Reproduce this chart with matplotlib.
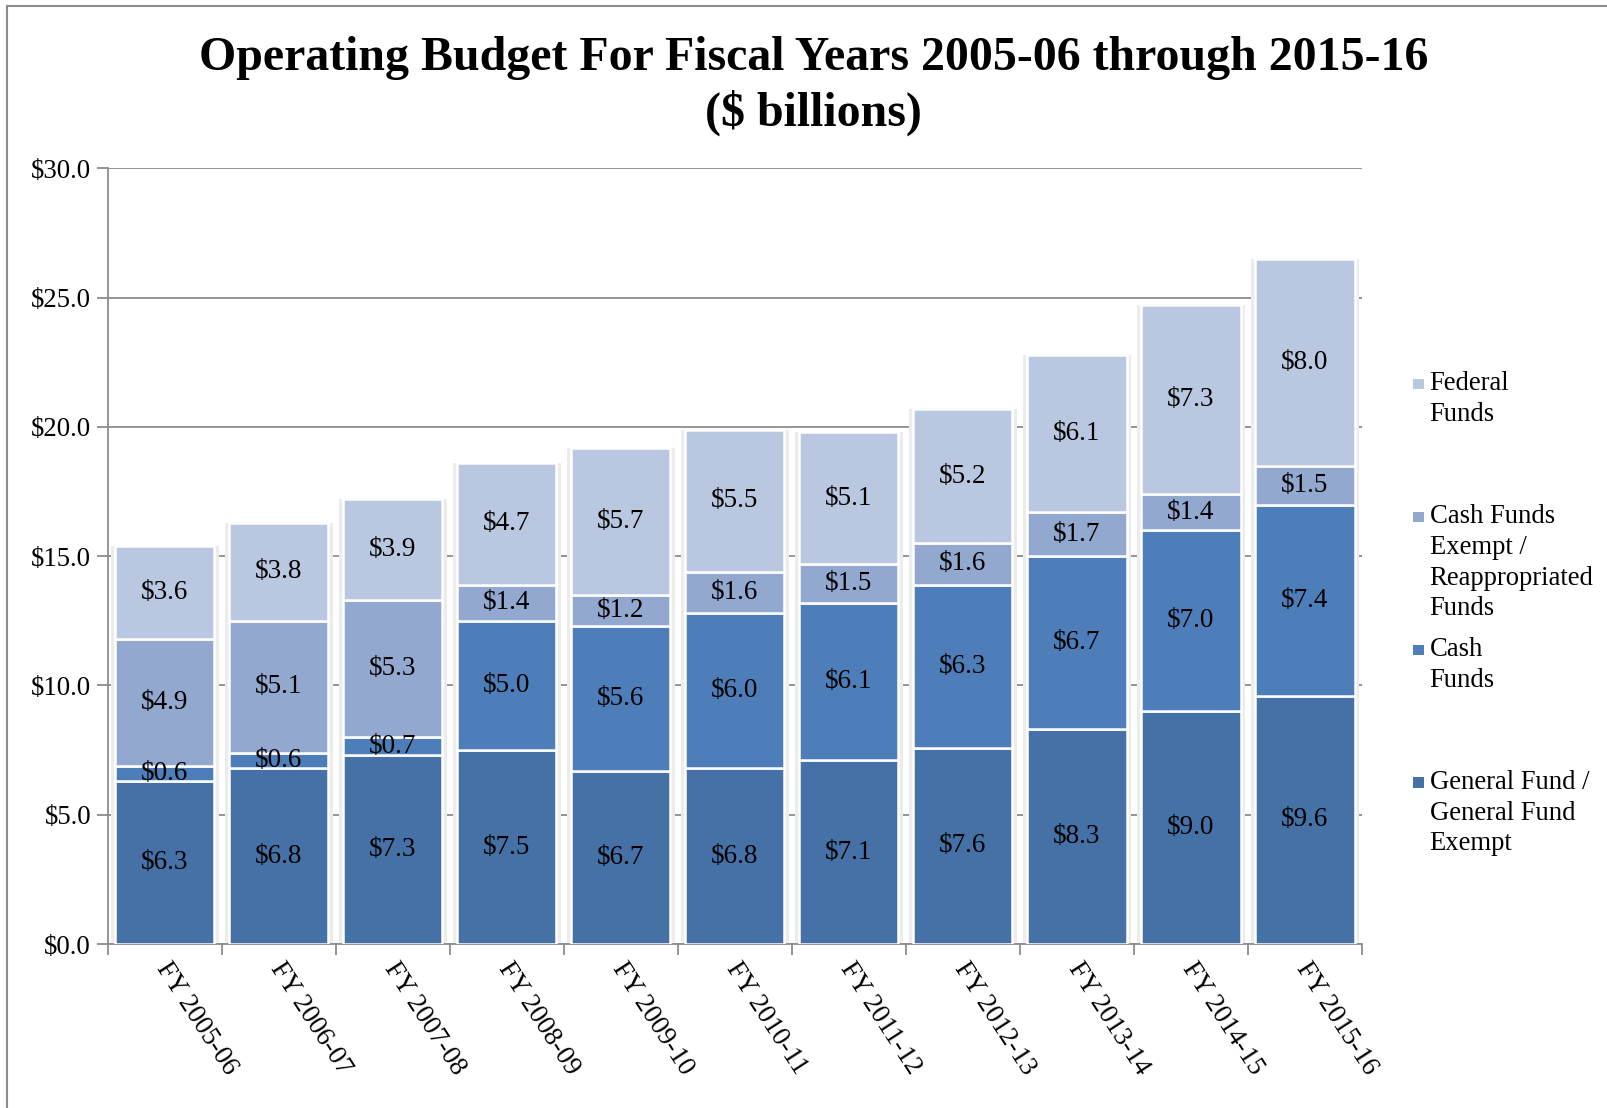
"""
Stacked operating budget chart, fiscal years 2005-06 through 2015-16.
"""

import matplotlib
matplotlib.use("Agg")
import matplotlib.pyplot as plt
import matplotlib.transforms as mtransforms
import numpy as np
from matplotlib.lines import Line2D
from matplotlib.patches import Rectangle

plt.rcParams["font.family"] = ["Liberation Serif", "DejaVu Serif"]

years = ["FY 2005-06", "FY 2006-07", "FY 2007-08", "FY 2008-09", "FY 2009-10",
         "FY 2010-11", "FY 2011-12", "FY 2012-13", "FY 2013-14", "FY 2014-15",
         "FY 2015-16"]

general_fund = [6.3, 6.8, 7.3, 7.5, 6.7, 6.8, 7.1, 7.6, 8.3, 9.0, 9.6]
cash_funds = [0.6, 0.6, 0.7, 5.0, 5.6, 6.0, 6.1, 6.3, 6.7, 7.0, 7.4]
cash_exempt = [4.9, 5.1, 5.3, 1.4, 1.2, 1.6, 1.5, 1.6, 1.7, 1.4, 1.5]
federal_funds = [3.6, 3.8, 3.9, 4.7, 5.7, 5.5, 5.1, 5.2, 6.1, 7.3, 8.0]

series = [
    ("General Fund /\nGeneral Fund\nExempt", general_fund, "#4571A7"),
    ("Cash\nFunds", cash_funds, "#4D7EBA"),
    ("Cash Funds\nExempt /\nReappropriated\nFunds", cash_exempt, "#93A8CF"),
    ("Federal\nFunds", federal_funds, "#BAC7E0"),
]

y_ticks = [0, 5, 10, 15, 20, 25, 30]

fig = plt.figure(figsize=(16.08, 11.08), dpi=100)
ax = fig.add_axes([0.067, 0.148, 0.78, 0.70])

x = np.arange(len(years))
bottom = np.zeros(len(years))
for name, vals, color in series:
    vals = np.array(vals)
    ax.bar(x, vals, 0.87, bottom=bottom, color=color, edgecolor="white",
           linewidth=1.8, zorder=3)
    for xi, b, v in zip(x, bottom, vals):
        ax.text(xi, b + v / 2, f"${v:.1f}", ha="center", va="center",
                fontsize=19.5, color="black", zorder=4)
    bottom += vals

# soft shadow strips either side of each column
for xi, total in zip(x, bottom):
    for dx in (-0.475, 0.435):
        ax.add_patch(Rectangle((xi + dx, 0), 0.04, total, facecolor="#ececec",
                               edgecolor="none", zorder=2))

ax.set_xlim(-0.5, len(years) - 0.5)
ax.set_ylim(0, 30)
ax.set_yticks(y_ticks)
ax.set_yticklabels([f"${t:.1f}" for t in y_ticks], fontsize=19.3)
ax.yaxis.grid(True, color="#8c8c8c", linewidth=1.3, zorder=0)
ax.set_axisbelow(True)

ax.set_xticks(np.arange(len(years) + 1) - 0.5)
ax.set_xticklabels([])
ax.set_xticks(x, minor=True)
ax.set_xticklabels(years, minor=True, rotation=-57, ha="left", va="top",
                   rotation_mode="anchor", fontsize=19.3)
ax.tick_params(axis="x", which="minor", length=0, pad=10)
ax.tick_params(axis="x", which="major", length=8, color="#8c8c8c", width=1.3)
ax.tick_params(axis="y", length=8, color="#8c8c8c", width=1.3, pad=4)

# nudge the slanted category labels a little to the right
shift = mtransforms.ScaledTranslation(7 / 100, 0, fig.dpi_scale_trans)
for lbl in ax.get_xticklabels(minor=True):
    lbl.set_transform(lbl.get_transform() + shift)

for side in ("top", "right"):
    ax.spines[side].set_visible(False)
for side in ("left", "bottom"):
    ax.spines[side].set_color("#8c8c8c")
    ax.spines[side].set_linewidth(1.3)

fig.text(0.506, 0.948, "Operating Budget For Fiscal Years 2005-06 through 2015-16",
         ha="center", va="center", fontsize=34.5, fontweight="bold")
fig.text(0.506, 0.898, "($ billions)", ha="center", va="center",
         fontsize=34.5, fontweight="bold")

# legend, top entry first
legend_tops = [0.665, 0.545, 0.425, 0.305]
for (name, _, color), top in zip(series[::-1], legend_tops):
    fig.patches.append(Rectangle((0.8785, top - 0.0165), 0.0068, 0.0098,
                                 transform=fig.transFigure, facecolor=color,
                                 edgecolor="none"))
    fig.text(0.889, top, name, ha="left", va="top", fontsize=19.2,
             linespacing=1.3)

# outer frame on the left and top
fig.lines.append(Line2D([0.0045, 0.0045], [0, 0.995], transform=fig.transFigure,
                        color="#8c8c8c", linewidth=1.5))
fig.lines.append(Line2D([0.0045, 1], [0.995, 0.995], transform=fig.transFigure,
                        color="#8c8c8c", linewidth=1.5))

fig.savefig("out.png", dpi=100)
